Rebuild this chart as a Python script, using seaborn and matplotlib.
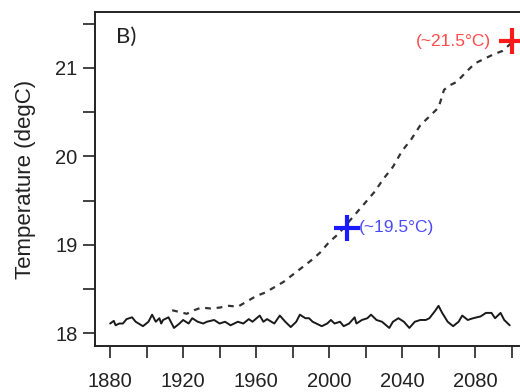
import matplotlib
matplotlib.use("Agg")
import matplotlib.pyplot as plt
import seaborn as sns
import pandas as pd
from matplotlib.ticker import MultipleLocator

# ---- data ----
obs_years = [1880, 1882, 1883, 1885, 1887, 1889, 1892, 1894, 1898, 1901, 1903, 1905,
             1907, 1908, 1909, 1912, 1915, 1918, 1920, 1923, 1925, 1928, 1931, 1933,
             1937, 1940, 1943, 1946, 1950, 1953, 1956, 1958, 1962, 1964, 1966, 1970,
             1973, 1976, 1979, 1982, 1984, 1987, 1989, 1991, 1993, 1996, 1999, 2001,
             2003, 2006, 2008, 2011, 2014, 2015, 2018, 2021, 2023, 2026, 2029, 2033,
             2035, 2038, 2041, 2044, 2047, 2050, 2053, 2055, 2058, 2060, 2062, 2065,
             2068, 2071, 2073, 2076, 2079, 2083, 2086, 2089, 2091, 2094, 2096, 2099]
obs_temp = [18.11, 18.14, 18.09, 18.11, 18.11, 18.16, 18.18, 18.13, 18.08, 18.13, 18.21, 18.13,
            18.17, 18.11, 18.15, 18.18, 18.06, 18.11, 18.15, 18.11, 18.17, 18.13, 18.11, 18.13,
            18.15, 18.11, 18.13, 18.09, 18.13, 18.11, 18.16, 18.13, 18.20, 18.13, 18.16, 18.11,
            18.20, 18.13, 18.07, 18.13, 18.21, 18.17, 18.17, 18.13, 18.11, 18.08, 18.11, 18.15,
            18.11, 18.13, 18.08, 18.11, 18.18, 18.11, 18.15, 18.17, 18.21, 18.15, 18.13, 18.06,
            18.13, 18.17, 18.13, 18.06, 18.13, 18.15, 18.15, 18.17, 18.25, 18.31, 18.23, 18.13,
            18.08, 18.13, 18.20, 18.15, 18.17, 18.19, 18.23, 18.23, 18.17, 18.23, 18.15, 18.09]

proj_years = [1914, 1918, 1922, 1926, 1930, 1935, 1940, 1945, 1950, 1955, 1960, 1965,
              1970, 1975, 1980, 1985, 1990, 1995, 2000, 2005, 2010, 2015, 2020, 2025,
              2030, 2035, 2040, 2045, 2050, 2055, 2060, 2063, 2066, 2070, 2075, 2080,
              2085, 2090, 2095, 2100]
proj_temp = [18.26, 18.24, 18.22, 18.26, 18.29, 18.28, 18.29, 18.31, 18.30, 18.36, 18.42, 18.46,
             18.52, 18.58, 18.66, 18.74, 18.82, 18.91, 19.03, 19.12, 19.24, 19.36, 19.48, 19.60,
             19.75, 19.88, 20.06, 20.19, 20.35, 20.45, 20.55, 20.75, 20.80, 20.84, 20.95, 21.05,
             21.10, 21.15, 21.19, 21.28]

marker_years = [2010, 2100]
marker_temps = [19.19, 21.30]
marker_labels = ["(~19.5°C)", "(~21.5°C)"]
marker_colors = ["#1a1aff", "#ff1a1a"]
label_colors = ["#4a4aff", "#ff4a4a"]

panel_label = "B)"
y_label = "Temperature (degC)"
x_ticks = [1880, 1920, 1960, 2000, 2040, 2080]
y_ticks = [18, 19, 20, 21]

# ---- plotting ----
sns.set_style("ticks")
plt.rcParams["font.family"] = ["Liberation Sans", "DejaVu Sans"]

fig = plt.figure(figsize=(5.2, 3.92), dpi=100)
ax = fig.add_axes([95 / 520, 1 - 346 / 392, 1 - 95 / 520 + 0.01, (346 - 12) / 392])

obs = pd.DataFrame({"year": obs_years, "temp": obs_temp})
proj = pd.DataFrame({"year": proj_years, "temp": proj_temp})

sns.lineplot(data=obs, x="year", y="temp", ax=ax, color="#1a1a1a", lw=1.4)
sns.lineplot(data=proj, x="year", y="temp", ax=ax, color="#333333", lw=1.6,
             linestyle=(0, (2.6, 2.6)))

for yr, t, c in zip(marker_years, marker_temps, marker_colors):
    ax.plot(yr, t, marker="+", ms=19, mew=3.0, color=c, zorder=5)

ax.text(marker_years[0] + 6.5, marker_temps[0], marker_labels[0], color=label_colors[0],
        fontsize=12.5, va="center", ha="left")
ax.text(marker_years[1] - 11.5, marker_temps[1], marker_labels[1], color=label_colors[1],
        fontsize=12.5, va="center", ha="right")

ax.text(0.048, 0.925, panel_label, transform=ax.transAxes, fontsize=16,
        family=["Lato", "DejaVu Sans"], va="center", ha="left", color="#222222")

ax.set_xlim(1871.7, 2107.5)
ax.set_ylim(17.856, 21.63)
ax.set_xticks(x_ticks)
ax.set_yticks(y_ticks)
ax.xaxis.set_minor_locator(MultipleLocator(20))
ax.yaxis.set_minor_locator(MultipleLocator(0.5))
ax.tick_params(axis="both", which="both", direction="out", length=8.5, width=1.2,
               color="#222222", labelsize=14.5, labelcolor="#222222")
ax.tick_params(axis="x", which="both", pad=10)
ax.tick_params(axis="y", which="both", pad=4)
ax.set_xlabel("")
ax.set_ylabel(y_label, fontsize=16, color="#222222", labelpad=14)

for s in ["left", "bottom", "top"]:
    ax.spines[s].set_color("#222222")
    ax.spines[s].set_linewidth(1.4)
ax.spines["right"].set_visible(False)

fig.savefig("out.png", dpi=100)
